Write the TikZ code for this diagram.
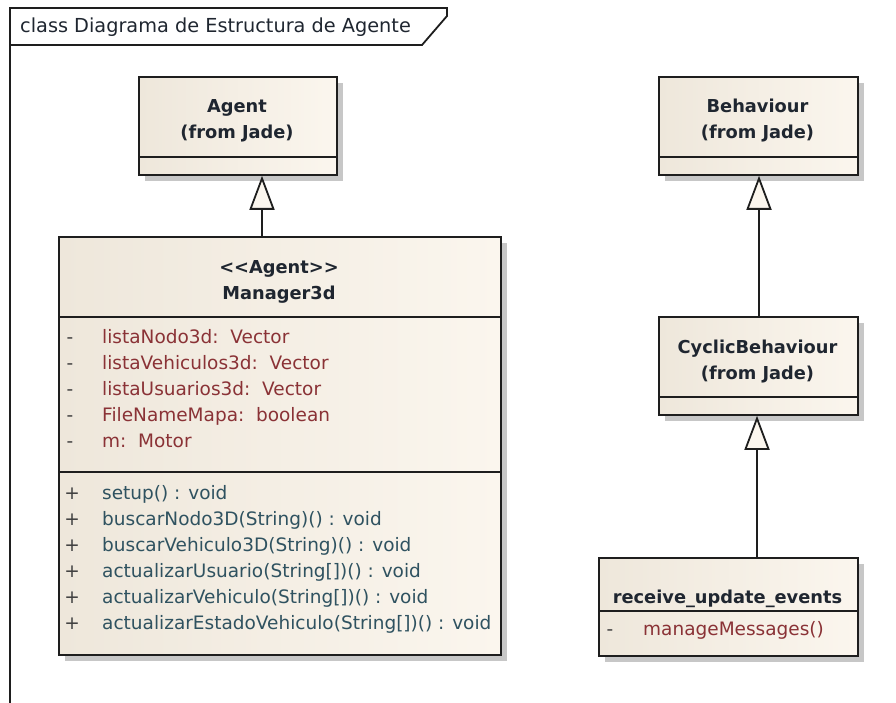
\documentclass[tikz,border=0pt]{standalone}
\usepackage{fontspec}
\setmainfont{DejaVu Sans}
\usetikzlibrary{arrows.meta,shadows}

\definecolor{boxfillL}{HTML}{EEE7DB}
\definecolor{boxfillR}{HTML}{FBF6EE}
\definecolor{boxline}{HTML}{1E1E1E}
\definecolor{attrcol}{HTML}{8A3236}
\definecolor{opcol}{HTML}{2F5260}
\definecolor{namecol}{HTML}{1F2630}
\definecolor{markcol}{HTML}{404040}

\newcommand{\txtfont}{\fontsize{18.5}{22}\selectfont}
\newcommand{\titlefont}{\fontsize{19.3}{22}\selectfont}
\newcommand{\namefont}{\fontsize{17.8}{21}\selectfont\bfseries}

\tikzset{
  classbox/.style={draw=boxline, line width=1.8pt, anchor=north west,
    left color=boxfillL, right color=boxfillR, inner sep=0pt,
    general shadow={shadow xshift=6pt, shadow yshift=-6pt, fill=black!22}},
  divider/.style={draw=boxline, line width=1.8pt},
  cname/.style={font=\namefont, text=namecol, anchor=base, inner sep=0pt},
  attr/.style={font=\txtfont, text=attrcol, anchor=base west, inner sep=0pt},
  oper/.style={font=\txtfont, text=opcol, anchor=base west, inner sep=0pt},
  vis/.style={font=\txtfont, text=markcol, anchor=base, inner sep=0pt},
  gen/.style={draw=boxline, line width=1.8pt,
    -{Triangle[length=34pt, width=25pt, fill=boxfillR, line width=1.8pt]}},
  frameline/.style={draw=boxline, line width=1.8pt}
}

\begin{document}
\begin{tikzpicture}[x=1pt, y=-1pt]
  \useasboundingbox (0,0) rectangle (896,703);

  % diagram frame with its name tab
  \draw[frameline] (10,703) -- (10,8) -- (447,8) -- (447,16) -- (422,45) -- (10,45);
  \node[anchor=base west, inner sep=0pt, text=namecol, font=\titlefont] (frametitle)
        at (20,33) {class Diagrama de Estructura de Agente};

  % ---------- Agent (from Jade)
  \node[classbox, minimum width=198pt, minimum height=98pt] (agent) at (138,76) {};
  \draw[divider] (138,157) -- (336,157);
  \node[cname] (agentname) at (237,113) {Agent};
  \node[cname] (agentpkg) at (237,139) {(from Jade)};

  % ---------- Manager3d
  \node[classbox, minimum width=442pt, minimum height=418pt] (manager) at (58,236) {};
  \draw[divider] (58,317) -- (500,317);
  \draw[divider] (58,472) -- (500,472);
  \node[cname] (mstereo) at (279,273) {{<}{<}Agent{>}{>}};
  \node[cname] (mname) at (279,299) {Manager3d};

  \foreach \y/\t [count=\i] in {
      343/{listaNodo3d:~~Vector},
      369/{listaVehiculos3d:~~Vector},
      395/{listaUsuarios3d:~~Vector},
      421/{FileNameMapa:~~boolean},
      447/{m:~~Motor}} {
    \node[vis] (mav\i) at (70,\y) {-};
    \node[attr] (ma\i) at (102,\y) {\t};
  }
  \foreach \y/\t [count=\i] in {
      499/{setup() : void},
      525/{buscarNodo3D(String)() : void},
      551/{buscarVehiculo3D(String)() : void},
      577/{actualizarUsuario(String[])() : void},
      603/{actualizarVehiculo(String[])() : void},
      629/{actualizarEstadoVehiculo(String[])() : void}} {
    \node[vis] (mov\i) at (72,\y) {+};
    \node[oper] (mo\i) at (102,\y) {\t};
  }

  % ---------- Behaviour (from Jade)
  \node[classbox, minimum width=199pt, minimum height=98pt] (behaviour) at (658,76) {};
  \draw[divider] (658,157) -- (857,157);
  \node[cname] (bname) at (757.5,113) {Behaviour};
  \node[cname] (bpkg) at (757.5,139) {(from Jade)};

  % ---------- CyclicBehaviour (from Jade)
  \node[classbox, minimum width=199pt, minimum height=98pt] (cyclic) at (658,316) {};
  \draw[divider] (658,397) -- (857,397);
  \node[cname] (cname) at (757.5,353) {CyclicBehaviour};
  \node[cname] (cpkg) at (757.5,379) {(from Jade)};

  % ---------- receive_update_events
  \node[classbox, minimum width=259pt, minimum height=98pt] (receive) at (598,557) {};
  \draw[divider] (598,611) -- (857,611);
  \node[cname] (rname) at (727.5,603) {receive\_update\_events};
  \node[vis] (rav1) at (610,635) {-};
  \node[attr] (ra1) at (643,635) {manageMessages()};

  % ---------- generalizations
  \coordinate (g1) at (262,0);
  \coordinate (g2) at (759,0);
  \coordinate (g3) at (757,0);
  \draw[gen] (manager.north -| g1) -- (agent.south -| g1);
  \draw[gen] (cyclic.north -| g2) -- (behaviour.south -| g2);
  \draw[gen] (receive.north -| g3) -- (cyclic.south -| g3);
\end{tikzpicture}
\end{document}
